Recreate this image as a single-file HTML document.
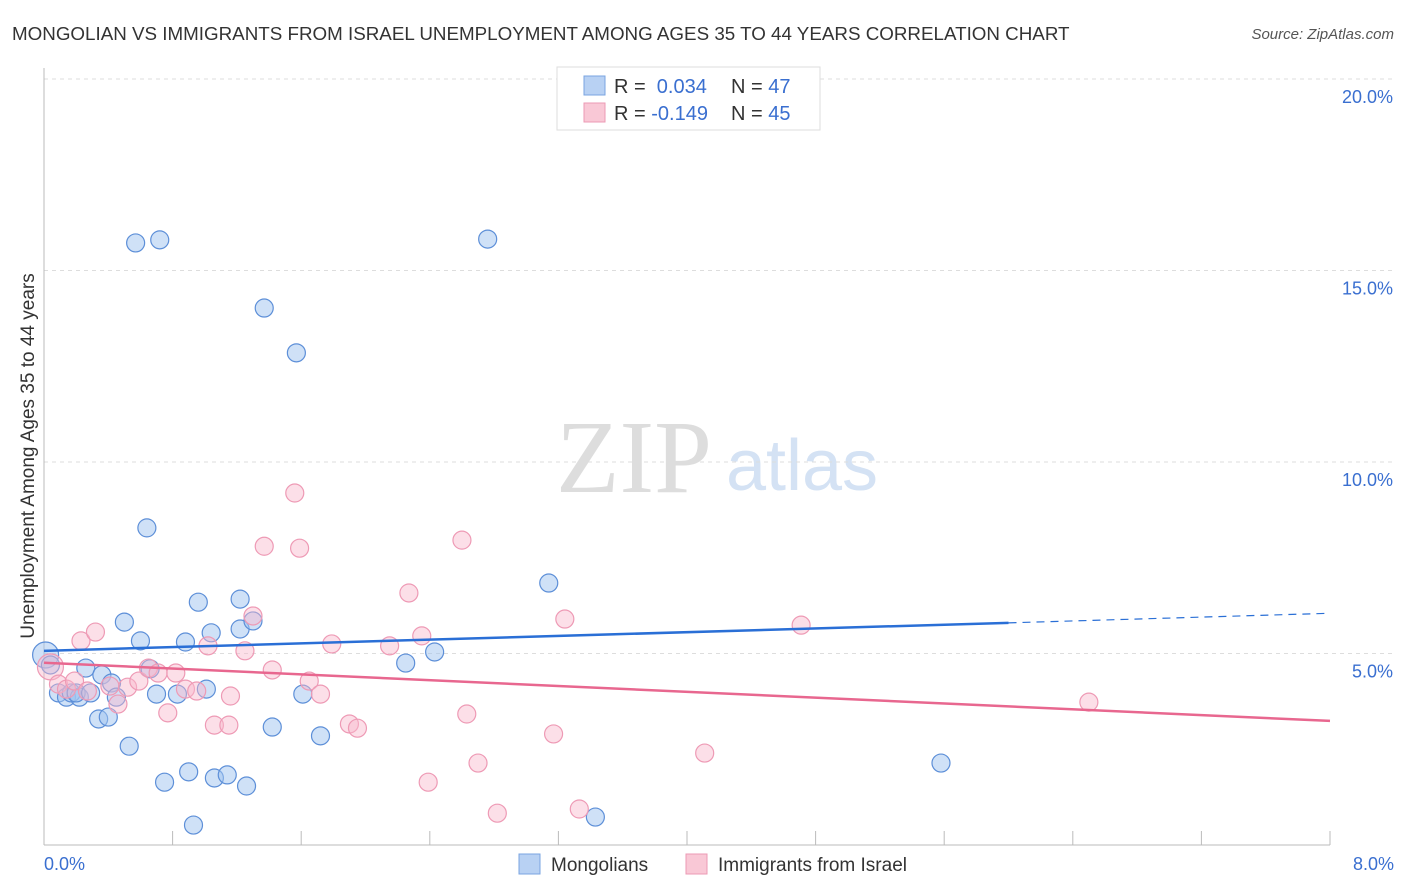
<!DOCTYPE html>
<html><head><meta charset="utf-8"><style>
body{margin:0;background:#fff;font-family:"Liberation Sans",sans-serif;}
#c{position:absolute;left:0;top:0;}
</style></head><body>
<svg id="c" width="1406" height="892">
<text x="12" y="40" font-size="18.8" fill="#333">MONGOLIAN VS IMMIGRANTS FROM ISRAEL UNEMPLOYMENT AMONG AGES 35 TO 44 YEARS CORRELATION CHART</text>
<text x="1394" y="39" font-size="15" fill="#555" font-style="italic" text-anchor="end">Source: ZipAtlas.com</text>
<text x="634" y="492" font-size="104" fill="#ddd" font-family="Liberation Serif,serif" text-anchor="middle">ZIP</text>
<text x="802" y="490" font-size="72" fill="#d4e2f4" text-anchor="middle">atlas</text>
<g id="grid"></g>
<line x1="44" y1="68" x2="44" y2="845" stroke="#bbb"/>
<line x1="44" y1="845" x2="1330" y2="845" stroke="#bbb"/>
<text transform="translate(34,456) rotate(-90)" font-size="19" fill="#333" text-anchor="middle">Unemployment Among Ages 35 to 44 years</text>
<g id="pts"></g>
<g id="lines"></g>
<g>
<rect x="557" y="67" width="263" height="63" fill="#fff" stroke="#ddd"/>
<rect x="584" y="76" width="21" height="19" fill="#b8d1f3" stroke="#7aa4e0"/>
<rect x="584" y="103" width="21" height="19" fill="#f9c8d6" stroke="#ec9ab4"/>
<text x="614" y="93" font-size="20" fill="#333">R = <tspan fill="#3a6fd0">&#160;0.034</tspan><tspan x="731">N = </tspan><tspan fill="#3a6fd0">47</tspan></text>
<text x="614" y="120" font-size="20" fill="#333">R = <tspan fill="#3a6fd0">-0.149</tspan><tspan x="731">N = </tspan><tspan fill="#3a6fd0">45</tspan></text>
</g>
<g>
<rect x="519" y="854" width="21" height="20" fill="#b8d1f3" stroke="#7aa4e0"/>
<text x="551" y="871" font-size="19" fill="#333">Mongolians</text>
<rect x="686" y="854" width="21" height="20" fill="#f9c8d6" stroke="#ec9ab4"/>
<text x="718" y="871" font-size="19" fill="#333">Immigrants from Israel</text>
</g>
</svg>
<script>
const yTicks=[5,10,15,20];
const yTickLabels=["5.0%","10.0%","15.0%","20.0%"];
const xTickLabels=["0.0%","8.0%"];
const mongX=[0.01,0.04,0.09,0.14,0.17,0.22,0.2,0.29,0.26,0.34,0.4,0.36,0.42,0.45,0.5,0.53,0.6,0.57,0.72,0.64,0.66,0.7,0.75,0.83,0.88,0.9,0.93,0.96,1.01,1.04,1.06,1.14,1.22,1.22,1.26,1.3,1.37,1.42,1.57,1.61,1.72,2.25,2.43,2.76,3.14,3.43,5.58];
const mongY=[4.96,4.7,3.97,3.86,3.97,3.86,3.97,3.97,4.62,3.29,3.34,4.44,4.23,3.86,5.82,2.58,5.33,15.72,15.8,8.28,4.6,3.94,1.64,3.94,5.3,1.91,0.52,6.34,4.07,5.54,1.75,1.83,6.42,5.64,1.54,5.85,14.02,3.08,12.85,3.94,2.85,4.75,5.04,15.82,6.84,0.73,2.14];
const isrX=[0.04,0.09,0.14,0.23,0.32,0.19,0.27,0.41,0.46,0.52,0.59,0.65,0.71,0.77,0.82,0.88,0.95,1.02,1.06,1.15,1.16,1.25,1.3,1.37,1.42,1.56,1.59,1.65,1.72,1.79,1.9,1.95,2.15,2.27,2.35,2.39,2.6,2.63,2.7,2.82,3.17,3.24,3.33,4.11,4.71,6.5];
const isrY=[4.65,4.2,4.07,5.33,5.56,4.28,4.02,4.15,3.68,4.12,4.28,4.62,4.49,3.45,4.49,4.07,4.02,5.2,3.13,3.13,3.89,5.07,5.98,7.8,4.57,9.19,7.75,4.28,3.94,5.25,3.16,3.05,5.2,6.58,5.46,1.64,7.96,3.42,2.14,0.83,2.9,5.9,0.94,2.4,5.74,3.73];
const trendM=[5.07,5.8,6.05], trendMx=[0,6.0,8];
const trendI=[4.76,3.24], trendIx=[0,8];
const X=v=>44+v/8*1286, Y=v=>845-v*38.3;
const NS="http://www.w3.org/2000/svg";
function mk(t,a,p){const e=document.createElementNS(NS,t);for(const k in a)e.setAttribute(k,a[k]);p.appendChild(e);return e;}
const grid=document.getElementById('grid');
yTicks.forEach((t,i)=>{
 const l=mk('line',{x1:44,x2:1394,y1:Y(t),y2:Y(t),stroke:'#ddd','stroke-dasharray':'4,4'},grid);
 
 
 const tx=mk('text',{x:1393,y:Y(t)+24,'font-size':18,fill:'#3a6fd0','text-anchor':'end'},grid);tx.textContent=yTickLabels[i];
 
 
});
for(let i=1;i<=10;i++){const x=44+i*128.6;const l=mk('line',{x1:x,x2:x,y1:831,y2:845,stroke:'#bbb'},grid);
 
 }
[[0,'start',44],[8,'end',1394]].forEach((d,i)=>{const t=mk('text',{x:d[2],y:870,'font-size':18,fill:'#3a6fd0','text-anchor':d[1]},grid);t.textContent=xTickLabels[i];
 
 });
const pts=document.getElementById('pts');
mongX.forEach((x,i)=>{const c=mk('circle',{cx:X(x),cy:Y(mongY[i]),r:i==0?13:9,fill:'rgba(160,195,240,0.5)',stroke:'#5d8fd8','stroke-width':1.2},pts);
 
 });
isrX.forEach((x,i)=>{const c=mk('circle',{cx:X(x),cy:Y(isrY[i]),r:i==0?13:9,fill:'rgba(248,185,205,0.45)',stroke:'#ee9ab5','stroke-width':1.2},pts);
 
 });
const ln=document.getElementById('lines');
let a=mk('line',{x1:X(trendMx[0]),y1:Y(trendM[0]),x2:X(trendMx[1]),y2:Y(trendM[1]),stroke:'#2a6fd6','stroke-width':2.5},ln);


a=mk('line',{x1:X(trendMx[1]),y1:Y(trendM[1]),x2:X(trendMx[2]),y2:Y(trendM[2]),stroke:'#2a6fd6','stroke-width':1.2,'stroke-dasharray':'8,6'},ln);


a=mk('line',{x1:X(trendIx[0]),y1:Y(trendI[0]),x2:X(trendIx[1]),y2:Y(trendI[1]),stroke:'#e8678f','stroke-width':2.5},ln);


</script>
</body></html>
